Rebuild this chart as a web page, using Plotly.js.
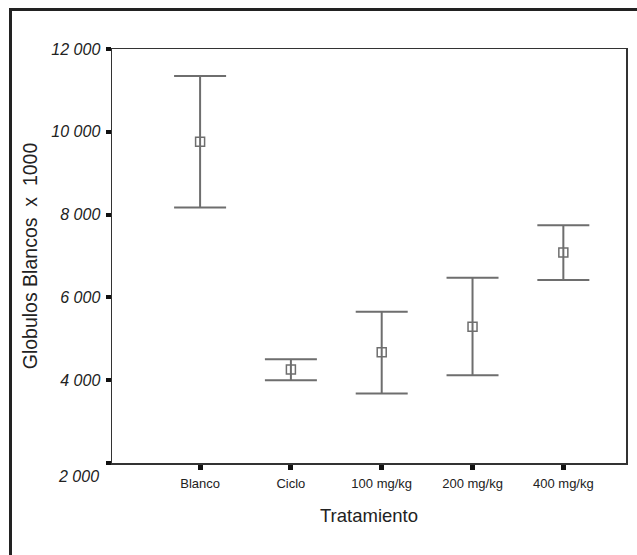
<!DOCTYPE html>
<html>
<head>
<meta charset="utf-8">
<script src="https://cdn.plot.ly/plotly-3.0.1.min.js"></script>
<style>
  html, body { margin: 0; padding: 0; background: #fff; }
  #wrap { position: relative; width: 637px; height: 555px; }
  #chart { width: 637px; height: 555px; }
  #frame { position: absolute; left: 9px; top: 8px; right: 0; bottom: 0;
           border-left: 3px solid #222; border-top: 3px solid #222; pointer-events: none; }
</style>
</head>
<body>
<div id="wrap">
  <div id="chart"></div>
  <div id="frame"></div>
</div>
<script>
// Data
const categories = ["Blanco", "Ciclo", "100 mg/kg", "200 mg/kg", "400 mg/kg"];
const means = [9758, 4258, 4676, 5290, 7087];
const upper = [11348, 4507, 5652, 6473, 7742];
const lower = [8169, 4000, 3679, 4121, 6418];
const yTickVals = [2000, 4000, 6000, 8000, 10000, 12000];

const errPlus = means.map((m, i) => upper[i] - m);
const errMinus = means.map((m, i) => m - lower[i]);

function fmt(v) { return String(v).replace(/\B(?=(\d{3})+(?!\d))/g, " "); }
// the lowest label is drawn separately, slightly lowered as in the reference
const yTickText = yTickVals.map((v, i) => i === 0 ? "" : fmt(v));

const grey = "#6e6e6e";
const fontFam = "Liberation Sans, Arial, sans-serif";

const trace = {
  type: "scatter",
  mode: "markers",
  x: categories,
  y: means,
  marker: { symbol: "square-open", size: 9, color: grey, line: { width: 1.5, color: grey } },
  error_y: {
    type: "data",
    symmetric: false,
    array: errPlus,
    arrayminus: errMinus,
    color: grey,
    thickness: 2,
    width: 26
  },
  hoverinfo: "skip",
  showlegend: false
};

const layout = {
  width: 637,
  height: 555,
  margin: { l: 112, r: 11, t: 49, b: 92 },
  paper_bgcolor: "#fff",
  plot_bgcolor: "#fff",
  font: { family: fontFam, color: "#222" },
  xaxis: {
    type: "category",
    range: [-0.97, 4.69],
    showgrid: false,
    zeroline: false,
    showline: true,
    mirror: true,
    linecolor: "#333",
    linewidth: 1.5,
    ticks: "outside",
    ticklen: 5,
    tickwidth: 5,
    tickcolor: "#111",
    tickfont: { size: 13, color: "#222", family: fontFam },
    ticklabelstandoff: 3,
    title: { text: "Tratamiento", font: { size: 18.5, color: "#222", family: fontFam }, standoff: 19 },
    automargin: false,
    fixedrange: true
  },
  yaxis: {
    range: [2000, 12000],
    tickmode: "array",
    tickvals: yTickVals,
    ticktext: yTickText,
    showgrid: false,
    zeroline: false,
    showline: true,
    mirror: true,
    linecolor: "#333",
    linewidth: 1.5,
    ticks: "outside",
    ticklen: 5,
    tickwidth: 4,
    tickcolor: "#111",
    tickfont: { size: 16, color: "#222", family: fontFam, style: "italic" },
    ticklabelstandoff: 2,
    title: { text: "Globulos Blancos  x  1000", font: { size: 19.5, color: "#222", family: fontFam }, standoff: 8 },
    automargin: false,
    fixedrange: true
  },
  annotations: [
    { xref: "paper", yref: "y", x: -0.021, y: yTickVals[0], xanchor: "right", yanchor: "middle",
      yshift: -13, text: fmt(yTickVals[0]), showarrow: false,
      font: { size: 16, color: "#222", family: fontFam, style: "italic" } }
  ]
};

Plotly.newPlot("chart", [trace], layout, { displayModeBar: false, staticPlot: true });
</script>
</body>
</html>
